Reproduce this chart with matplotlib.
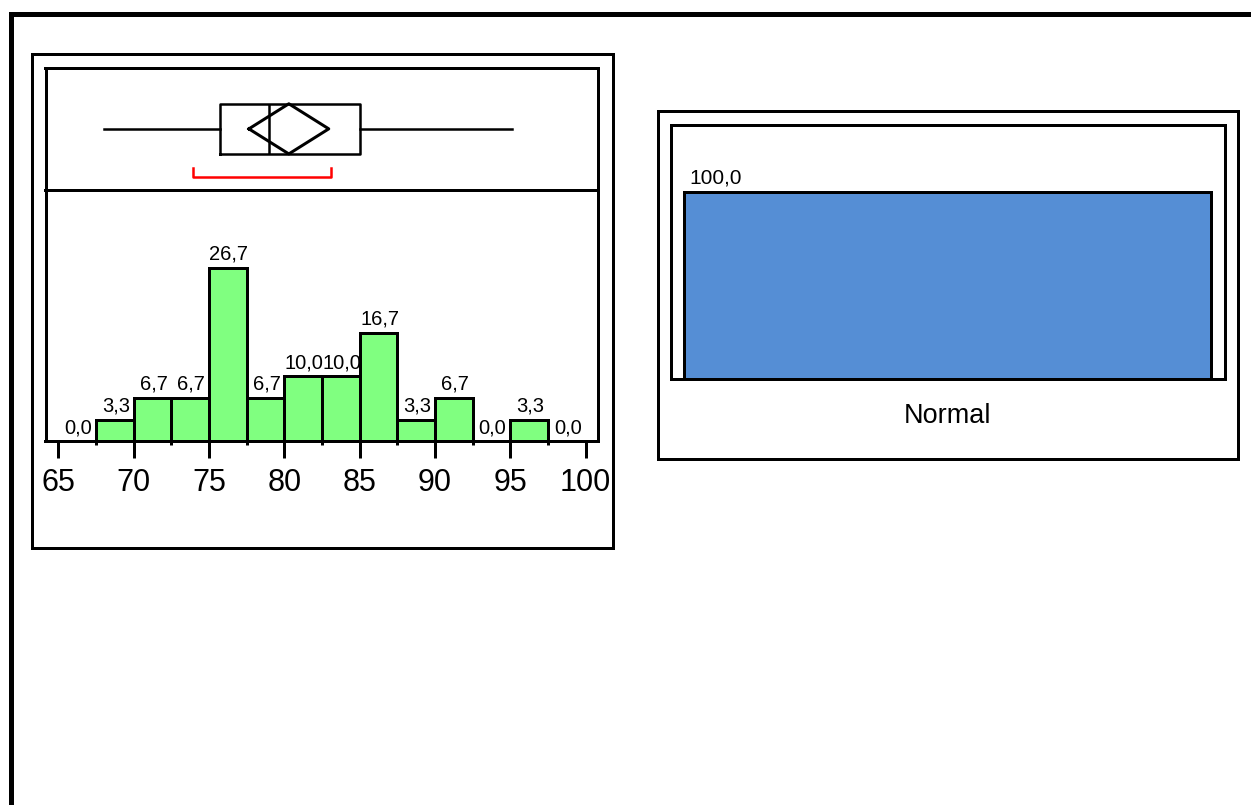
import matplotlib
matplotlib.use("Agg")
import matplotlib.pyplot as plt
from matplotlib.patches import Rectangle

plt.rcParams['font.family'] = ['Liberation Sans', 'DejaVu Sans']

# ---------------- data ----------------
bin_edges = [65, 67.5, 70, 72.5, 75, 77.5, 80, 82.5, 85, 87.5, 90, 92.5, 95, 97.5, 100]
percents = [0.0, 3.3, 6.7, 6.7, 26.7, 6.7, 10.0, 10.0, 16.7, 3.3, 6.7, 0.0, 3.3, 0.0]
x_ticks = [65, 70, 75, 80, 85, 90, 95, 100]

box_min, box_q1, box_med, box_q3, box_max = 68.0, 75.7, 79.0, 85.0, 95.1
mean_val, ci_low, ci_high = 80.3, 77.65, 82.95
short_low, short_high = 73.95, 83.1

cat_labels = ["Normal"]
cat_values = [100.0]

GREEN = "#80FF80"
BLUE = "#558ED5"

W, H = 1251, 805
fig = plt.figure(figsize=(W / 100, H / 100), dpi=100)


def px_rect(x0, y0, x1, y1):
    return [x0 / W, 1 - y1 / H, (x1 - x0) / W, (y1 - y0) / H]


def px2pt(p):
    return p * 72 / 100


def frame(x0, y0, x1, y1, lw_px):
    fig.add_artist(Rectangle((x0 / W, 1 - y1 / H), (x1 - x0) / W, (y1 - y0) / H,
                             transform=fig.transFigure, fill=False,
                             edgecolor="black", linewidth=px2pt(lw_px), zorder=10))


# outer frame (extends past the image on right/bottom)
frame(10.5, 14.5, 1300, 900, 5)
# left panel frame
frame(31.7, 54.5, 612.5, 548.3, 3)
# right panel frame
frame(657.7, 111.5, 1238, 458.7, 3)

# ---------------- histogram axes ----------------
axh = fig.add_axes(px_rect(45.5, 190, 598, 441.5))
xlim = (64.15, 100.82)
axh.set_xlim(*xlim)
axh.set_ylim(0, 38.6)
axh.patch.set_visible(False)
axh.spines['top'].set_visible(False)
for k in ('left', 'right', 'bottom'):
    axh.spines[k].set_linewidth(px2pt(3))
for i, p in enumerate(percents):
    left = bin_edges[i]
    width = bin_edges[i + 1] - bin_edges[i]
    if p > 0:
        axh.bar(left, p, width=width, align='edge', color=GREEN, edgecolor="black",
                linewidth=px2pt(3), zorder=2 + 2 * i)
    axh.annotate(f"{p:.1f}".replace(".", ","), xy=(left + width / 2, p),
                 xytext=(0.8, px2pt(4)), textcoords="offset points",
                 ha="center", va="bottom", fontsize=14.5, zorder=3 + 2 * i,
                 annotation_clip=False)
axh.set_yticks([])
axh.set_xticks(x_ticks)
axh.set_xticklabels([str(t) for t in x_ticks], fontsize=22)
axh.set_xticks(bin_edges[1::2], minor=True)
axh.tick_params(axis='x', which='major', direction='out', length=px2pt(17),
                width=px2pt(3), pad=6.5)
axh.tick_params(axis='x', which='minor', direction='out', length=px2pt(4),
                width=px2pt(3))

# ---------------- box plot axes ----------------
axb = fig.add_axes(px_rect(45.5, 67.7, 598, 190))
axb.set_xlim(*xlim)
axb.set_ylim(0, 1)
axb.set_xticks([])
axb.set_yticks([])
axb.patch.set_visible(False)
for s in axb.spines.values():
    s.set_linewidth(px2pt(3))
stats = [dict(med=box_med, q1=box_q1, q3=box_q3, whislo=box_min, whishi=box_max, fliers=[])]
lwb = px2pt(2.5)
axb.bxp(stats, positions=[0.5], widths=0.41, orientation='horizontal', showcaps=False,
        boxprops=dict(color="black", linewidth=lwb),
        whiskerprops=dict(color="black", linewidth=lwb),
        medianprops=dict(color="black", linewidth=lwb),
        manage_ticks=False)
axb.set_xlim(*xlim)
axb.set_ylim(0, 1)
axb.plot([ci_low, mean_val, ci_high, mean_val, ci_low],
         [0.5, 0.705, 0.5, 0.295, 0.5], color="black", linewidth=px2pt(3), zorder=5)
axb.plot([short_low, short_low, short_high, short_high],
         [0.182, 0.109, 0.109, 0.182], color="#FF0000", linewidth=px2pt(2.5))

# ---------------- right bar axes ----------------
axr = fig.add_axes(px_rect(670.5, 125.3, 1225.3, 379))
axr.set_xlim(-0.5, 0.5)
axr.set_ylim(0, 135.7)
for s in axr.spines.values():
    s.set_linewidth(px2pt(3))
xs = list(range(len(cat_values)))
bars = axr.bar(xs, cat_values, width=0.95, color=BLUE, edgecolor="black",
               linewidth=px2pt(3))
for b, v in zip(bars, cat_values):
    axr.annotate(f"{v:.1f}".replace(".", ","), xy=(b.get_x(), v),
                 xytext=(px2pt(5), px2pt(5)), textcoords="offset points",
                 ha="left", va="bottom", fontsize=15)
axr.set_yticks([])
axr.set_xticks(xs)
axr.set_xticklabels(cat_labels, fontsize=19.5)
axr.tick_params(axis='x', length=0, pad=17)

fig.savefig("out.png", dpi=100)
